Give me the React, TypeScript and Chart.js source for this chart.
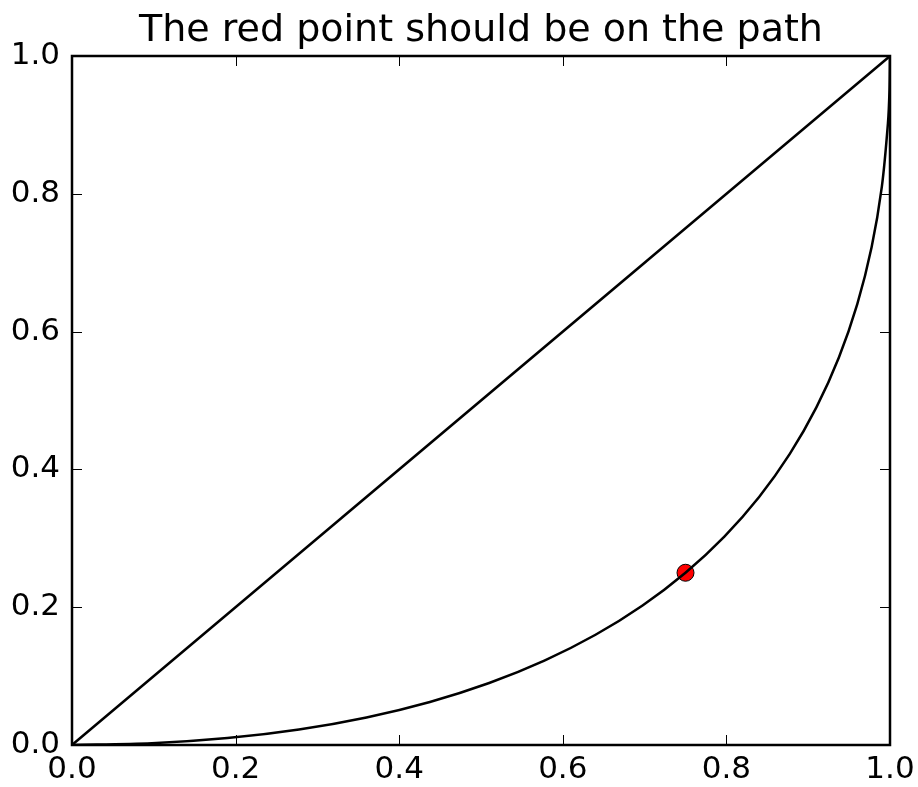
import React, { useEffect, useRef } from "react";
import { Chart, registerables } from "chart.js";

Chart.register(...registerables);

const titleText = "The red point should be on the path";
const tickValues = [0, 0.2, 0.4, 0.6, 0.8, 1.0];

const diagX = [0, 1];
const diagY = [0, 1];

const curveX = [0, 0.0975, 0.19, 0.2775, 0.36, 0.4375, 0.51, 0.5775, 0.64, 0.6975, 0.75, 0.7975, 0.84, 0.8775, 0.91, 0.9375, 0.96, 0.9775, 0.99, 0.9975, 0.9994, 1];
const curveY = [0, 0.0025, 0.01, 0.0225, 0.04, 0.0625, 0.09, 0.1225, 0.16, 0.2025, 0.25, 0.3025, 0.36, 0.4225, 0.49, 0.5625, 0.64, 0.7225, 0.81, 0.9025, 0.9506, 1];

const markerX = [0.75];
const markerY = [0.25];

const FONT = "'DejaVu Sans', sans-serif";

const zip = (xs: number[], ys: number[]) => xs.map((x, i) => ({ x, y: ys[i] }));

const framePlugin = {
  id: "frameAndTicks",
  afterDatasetsDraw(chart: any) {
    const { ctx, chartArea } = chart;
    const { left, right, top, bottom } = chartArea;
    const xs = chart.scales.x;
    const ys = chart.scales.y;
    const len = 10;
    ctx.save();
    ctx.strokeStyle = "#000";
    ctx.lineWidth = 1;
    ctx.beginPath();
    tickValues.forEach((v) => {
      const px = Math.round(xs.getPixelForValue(v)) + 0.5;
      ctx.moveTo(px, bottom);
      ctx.lineTo(px, bottom - len);
      ctx.moveTo(px, top);
      ctx.lineTo(px, top + len);
      const py = Math.round(ys.getPixelForValue(v)) + 0.5;
      ctx.moveTo(left, py);
      ctx.lineTo(left + len, py);
      ctx.moveTo(right, py);
      ctx.lineTo(right - len, py);
    });
    ctx.stroke();
    ctx.lineWidth = 2.5;
    ctx.strokeRect(left, top, right - left, bottom - top);
    ctx.restore();
  },
  afterDraw(chart: any) {
    const { ctx, chartArea } = chart;
    ctx.save();
    ctx.fillStyle = "#000";
    ctx.font = `38px ${FONT}`;
    ctx.textAlign = "center";
    ctx.textBaseline = "alphabetic";
    ctx.fillText(titleText, (chartArea.left + chartArea.right) / 2, 41);
    ctx.restore();
  },
};

export default function App() {
  const ref = useRef<HTMLCanvasElement>(null);
  useEffect(() => {
    if (!ref.current) return;
    const chart = new Chart(ref.current, {
      type: "scatter",
      data: {
        datasets: [
          {
            data: zip(diagX, diagY),
            showLine: true,
            borderColor: "#000",
            borderWidth: 2.5,
            pointRadius: 0,
            tension: 0,
          },
          {
            data: zip(curveX, curveY),
            showLine: true,
            borderColor: "#000",
            borderWidth: 2.5,
            pointRadius: 0,
            tension: 0.3,
          },
          {
            data: zip(markerX, markerY),
            showLine: false,
            backgroundColor: "#ff0000",
            borderColor: "#000",
            borderWidth: 1,
            pointRadius: 8.5,
          },
        ],
      },
      options: {
        responsive: false,
        animation: false,
        events: [],
        layout: { padding: { left: 0, right: 28, top: 56, bottom: 0 } },
        plugins: {
          legend: { display: false },
          tooltip: { enabled: false },
          title: { display: false },
        },
        scales: {
          x: {
            type: "linear",
            min: 0,
            max: 1,
            afterFit: (s: any) => {
              s.height = 42;
              s.paddingLeft = 0;
              s.paddingRight = 0;
            },
            afterBuildTicks: (s: any) => {
              s.ticks = tickValues.map((v) => ({ value: v }));
            },
            grid: { display: false, drawTicks: false },
            border: { display: false },
            ticks: {
              color: "#000",
              font: { family: FONT, size: 31 },
              padding: 6,
              maxRotation: 0,
              callback: (v: any) => Number(v).toFixed(1),
            },
          },
          y: {
            type: "linear",
            min: 0,
            max: 1,
            afterFit: (s: any) => {
              s.width = 72;
              s.paddingTop = 0;
              s.paddingBottom = 0;
            },
            afterBuildTicks: (s: any) => {
              s.ticks = tickValues.map((v) => ({ value: v }));
            },
            grid: { display: false, drawTicks: false },
            border: { display: false },
            ticks: {
              color: "#000",
              font: { family: FONT, size: 31 },
              padding: 12,
              callback: (v: any) => Number(v).toFixed(1),
            },
          },
        },
      },
      plugins: [framePlugin],
    });
    return () => chart.destroy();
  }, []);
  return (
    <div style={{ position: "fixed", left: 0, top: 0, width: 918, height: 787, background: "#fff" }}>
      <canvas ref={ref} width={918} height={787} style={{ display: "block" }} />
    </div>
  );
}
